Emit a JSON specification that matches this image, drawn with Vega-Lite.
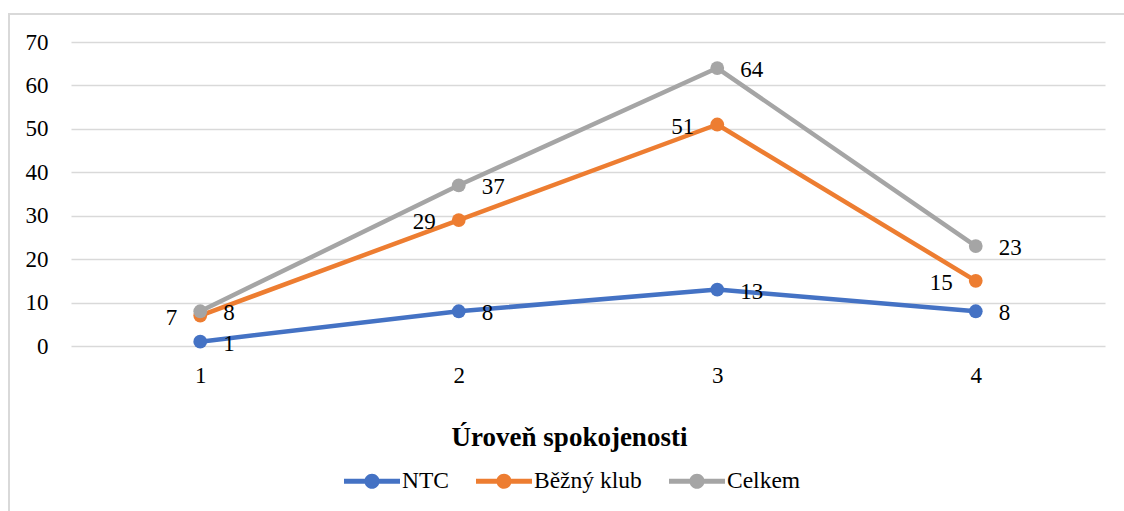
{
  "$schema": "https://vega.github.io/schema/vega-lite/v6.json",
  "autosize": "none",
  "width": 1125,
  "height": 507,
  "padding": {"left": 9, "top": 14, "right": -10, "bottom": -10},
  "background": "white",
  "config": {
    "view": {"stroke": "#D9D9D9", "strokeWidth": 2},
    "font": "Liberation Serif"
  },
  "data": {
    "values": [
      {"uroven": "1", "serie": "NTC", "pocet": 1},
      {"uroven": "2", "serie": "NTC", "pocet": 8},
      {"uroven": "3", "serie": "NTC", "pocet": 13},
      {"uroven": "4", "serie": "NTC", "pocet": 8},
      {"uroven": "1", "serie": "Běžný klub", "pocet": 7},
      {"uroven": "2", "serie": "Běžný klub", "pocet": 29},
      {"uroven": "3", "serie": "Běžný klub", "pocet": 51},
      {"uroven": "4", "serie": "Běžný klub", "pocet": 15},
      {"uroven": "1", "serie": "Celkem", "pocet": 8},
      {"uroven": "2", "serie": "Celkem", "pocet": 37},
      {"uroven": "3", "serie": "Celkem", "pocet": 64},
      {"uroven": "4", "serie": "Celkem", "pocet": 23}
    ]
  },
  "encoding": {
    "x": {
      "field": "uroven",
      "type": "ordinal",
      "scale": {"type": "point", "range": [62, 1096], "padding": 0.5},
      "axis": {
        "title": "Úroveň spokojenosti",
        "labelAngle": 0,
        "domain": false,
        "ticks": false,
        "grid": false,
        "offset": -175,
        "labelFont": "Liberation Serif",
        "labelFontSize": 23,
        "labelColor": "#000000",
        "labelBaseline": "middle",
        "labelPadding": 29,
        "titleFont": "Liberation Serif",
        "titleFontSize": 27,
        "titleFontWeight": "bold",
        "titleColor": "#000000",
        "titleX": 560,
        "titleY": 99,
        "titleAlign": "center",
        "titleBaseline": "alphabetic"
      }
    },
    "y": {
      "field": "pocet",
      "type": "quantitative",
      "scale": {"domain": [0, 70], "nice": false, "zero": true, "range": [332, 28]},
      "axis": {
        "title": null,
        "values": [0, 10, 20, 30, 40, 50, 60, 70],
        "domain": false,
        "ticks": false,
        "grid": true,
        "gridColor": "#D9D9D9",
        "gridWidth": 1.5,
        "offset": -62,
        "labelFont": "Liberation Serif",
        "labelFontSize": 23,
        "labelColor": "#000000",
        "labelPadding": 23
      }
    },
    "color": {
      "field": "serie",
      "type": "nominal",
      "scale": {
        "domain": ["NTC", "Běžný klub", "Celkem"],
        "range": ["#4472C4", "#ED7D31", "#A5A5A5"]
      }
    }
  },
  "layer": [
    {
      "mark": {"type": "line", "strokeWidth": 4.5, "strokeCap": "round", "strokeJoin": "round"},
      "encoding": {
        "color": {
          "field": "serie",
          "type": "nominal",
          "scale": {
            "domain": ["NTC", "Běžný klub", "Celkem"],
            "range": ["#4472C4", "#ED7D31", "#A5A5A5"]
          },
          "legend": {
            "title": null,
            "orient": "none",
            "direction": "horizontal",
            "legendX": 335,
            "legendY": 439,
            "padding": 0,
            "symbolType": "M-1,-0.09 L1,-0.09 L1,0.09 L-1,0.09 Z M0.27,0 A0.27,0.27 0 1,1 -0.27,0 A0.27,0.27 0 1,1 0.27,0 Z",
            "symbolSize": 3136,
            "symbolStrokeWidth": 0,
            "labelFont": "Liberation Serif",
            "labelFontSize": 23.5,
            "labelColor": "#000000",
            "labelOffset": 2,
            "columnPadding": 27,
            "encode": {
              "symbols": {
                "update": {
                  "fill": {"scale": "color", "field": "value"},
                  "stroke": {"value": "transparent"},
                  "strokeWidth": {"value": 0},
                  "opacity": {"value": 1}
                }
              }
            }
          }
        }
      }
    },
    {
      "mark": {"type": "point", "filled": true, "size": 190, "opacity": 1},
      "encoding": {
        "color": {"field": "serie", "type": "nominal", "legend": null}
      }
    },
    {
      "transform": [{"filter": "datum.serie !== 'Běžný klub'"}],
      "mark": {"type": "text", "align": "left", "baseline": "middle", "dx": 23, "dy": 2, "font": "Liberation Serif", "fontSize": 23, "color": "#000000"},
      "encoding": {
        "text": {"field": "pocet", "type": "quantitative"},
        "color": {"value": "#000000"}
      }
    },
    {
      "transform": [{"filter": "datum.serie === 'Běžný klub'"}],
      "mark": {"type": "text", "align": "right", "baseline": "middle", "dx": -23, "dy": 2, "font": "Liberation Serif", "fontSize": 23, "color": "#000000"},
      "encoding": {
        "text": {"field": "pocet", "type": "quantitative"},
        "color": {"value": "#000000"}
      }
    }
  ]
}
